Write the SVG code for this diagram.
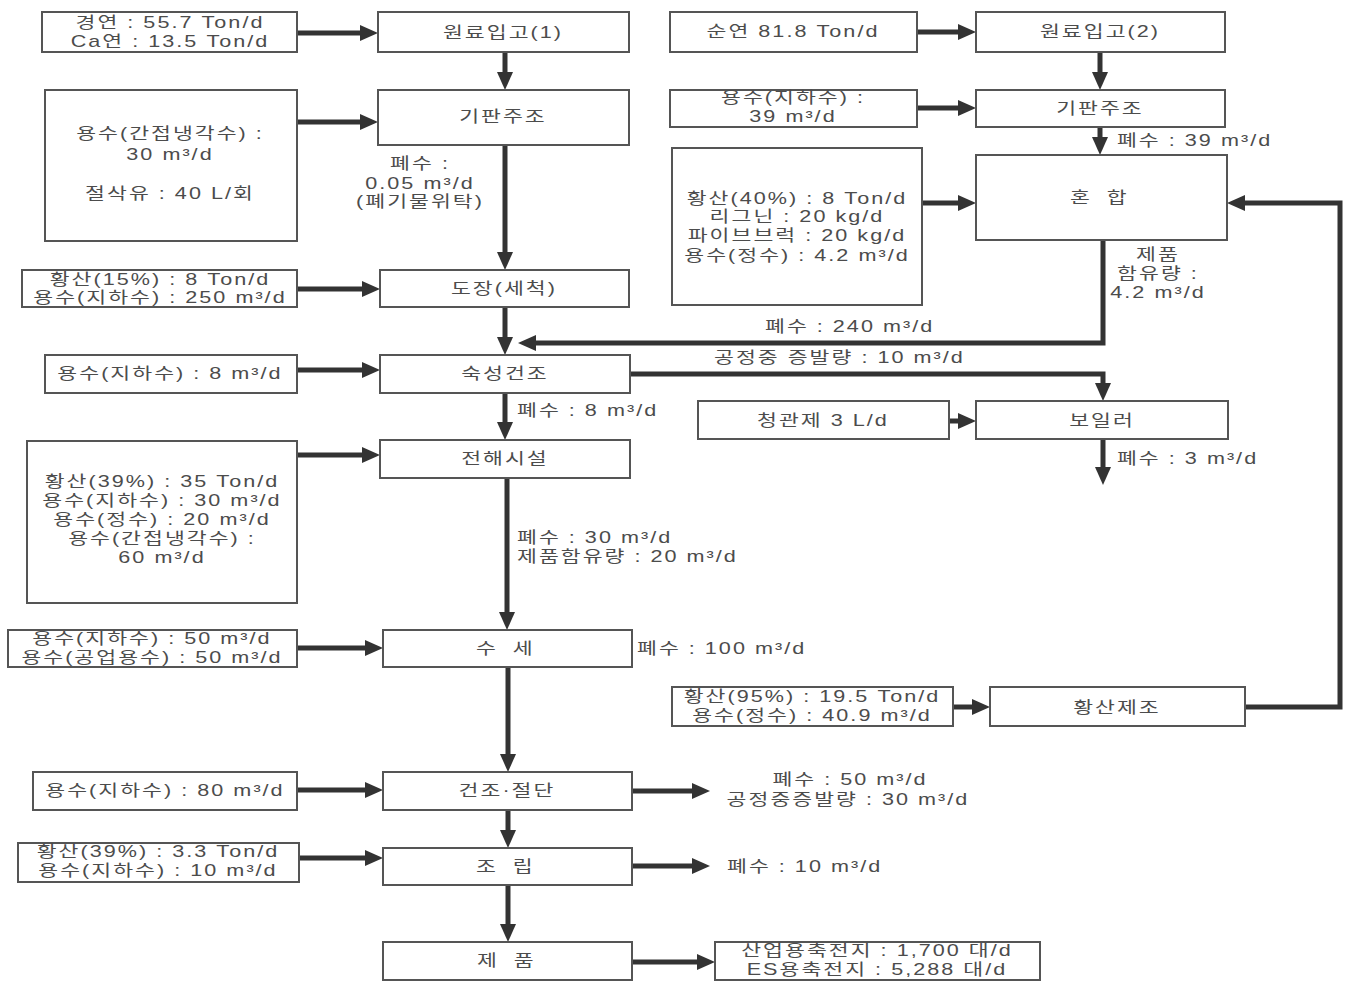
<svg xmlns="http://www.w3.org/2000/svg" width="1345" height="987" viewBox="0 0 1345 987">
<style>
.bx{fill:#fff;stroke:#555;stroke-width:2}
.t{font-family:"Liberation Sans","Noto Sans CJK KR",sans-serif;font-size:16px;fill:#4c4c4c;letter-spacing:1.5px;transform-box:fill-box;transform-origin:0% 50%;transform:scale(1.35,1)}
.m{text-anchor:middle;transform-origin:50% 50%}
.w{letter-spacing:4px}
.c{fill:none;stroke:#333;stroke-width:5}
</style>
<defs>
<marker id="ah" markerUnits="userSpaceOnUse" markerWidth="20" markerHeight="18" refX="8" refY="8" orient="auto">
<path d="M0,0 L18,8 L0,16 z" fill="#333"/>
</marker>
</defs>
<rect width="1345" height="987" fill="#fff"/>

<g id="connectors">
<path class="c" marker-end="url(#ah)" d="M297,33 H368"/>
<path class="c" marker-end="url(#ah)" d="M505,52 V80"/>
<path class="c" marker-end="url(#ah)" d="M297,122 H368"/>
<path class="c" marker-end="url(#ah)" d="M505,145 V260"/>
<path class="c" marker-end="url(#ah)" d="M297,289 H370"/>
<path class="c" marker-end="url(#ah)" d="M505,307 V345"/>
<path class="c" marker-end="url(#ah)" d="M1103,240 V343 H528"/>
<path class="c" marker-end="url(#ah)" d="M297,370 H370"/>
<path class="c" marker-end="url(#ah)" d="M630,374 H1103 V391"/>
<path class="c" marker-end="url(#ah)" d="M505,393 V430"/>
<path class="c" marker-end="url(#ah)" d="M297,455 H370"/>
<path class="c" marker-end="url(#ah)" d="M507,478 V620"/>
<path class="c" marker-end="url(#ah)" d="M297,648 H373"/>
<path class="c" marker-end="url(#ah)" d="M508,667 V762"/>
<path class="c" marker-end="url(#ah)" d="M297,790 H373"/>
<path class="c" marker-end="url(#ah)" d="M508,810 V838"/>
<path class="c" marker-end="url(#ah)" d="M299,858 H373"/>
<path class="c" marker-end="url(#ah)" d="M508,885 V932"/>
<path class="c" marker-end="url(#ah)" d="M632,791 H700"/>
<path class="c" marker-end="url(#ah)" d="M632,866 H700"/>
<path class="c" marker-end="url(#ah)" d="M632,962 H705"/>
<path class="c" marker-end="url(#ah)" d="M917,32 H966"/>
<path class="c" marker-end="url(#ah)" d="M1100,52 V80"/>
<path class="c" marker-end="url(#ah)" d="M917,108 H966"/>
<path class="c" marker-end="url(#ah)" d="M1100,127 V145"/>
<path class="c" marker-end="url(#ah)" d="M922,203 H966"/>
<path class="c" marker-end="url(#ah)" d="M1245,707 H1340 V203 H1237"/>
<path class="c" marker-end="url(#ah)" d="M953,707 H980"/>
<path class="c" marker-end="url(#ah)" d="M949,421 H966"/>
<path class="c" marker-end="url(#ah)" d="M1103,439 V475"/>
</g>

<g id="in-lead1"><rect class="bx" x="42" y="12" width="255" height="40"/>
<text class="t m" x="170" y="28">경연 : 55.7 Ton/d</text>
<text class="t m" x="170" y="47">Ca연 : 13.5 Ton/d</text></g>
<g id="n-raw1"><rect class="bx" x="378" y="12" width="251" height="40"/>
<text class="t m" x="503" y="38">원료입고(1)</text></g>

<g id="in-cool"><rect class="bx" x="45" y="90" width="252" height="151"/>
<text class="t m" x="170" y="139">용수(간접냉각수) :</text>
<text class="t m" x="170" y="160">30 m³/d</text>
<text class="t m" x="170" y="199">절삭유 : 40 L/회</text></g>
<g id="n-cast1"><rect class="bx" x="378" y="90" width="251" height="55"/>
<text class="t m" x="503" y="122">기판주조</text></g>

<g id="in-acid15"><rect class="bx" x="22" y="270" width="275" height="37"/>
<text class="t m" x="160" y="285">황산(15%) : 8 Ton/d</text>
<text class="t m" x="160" y="303">용수(지하수) : 250 m³/d</text></g>
<g id="n-paste"><rect class="bx" x="380" y="270" width="249" height="37"/>
<text class="t m" x="504" y="294">도장(세척)</text></g>

<g id="in-w8"><rect class="bx" x="45" y="355" width="252" height="38"/>
<text class="t m" x="170" y="379">용수(지하수) : 8 m³/d</text></g>
<g id="n-cure"><rect class="bx" x="380" y="355" width="250" height="38"/>
<text class="t m" x="505" y="379">숙성건조</text></g>

<g id="in-acid39"><rect class="bx" x="27" y="441" width="270" height="162"/>
<text class="t m" x="162" y="487">황산(39%) : 35 Ton/d</text>
<text class="t m" x="162" y="506">용수(지하수) : 30 m³/d</text>
<text class="t m" x="162" y="525">용수(정수) : 20 m³/d</text>
<text class="t m" x="162" y="544">용수(간접냉각수) :</text>
<text class="t m" x="162" y="563">60 m³/d</text></g>
<g id="n-form"><rect class="bx" x="380" y="440" width="250" height="38"/>
<text class="t m" x="505" y="464">전해시설</text></g>

<g id="in-w50"><rect class="bx" x="8" y="630" width="289" height="37"/>
<text class="t m" x="152" y="644">용수(지하수) : 50 m³/d</text>
<text class="t m" x="152" y="663">용수(공업용수) : 50 m³/d</text></g>
<g id="n-wash"><rect class="bx" x="383" y="630" width="249" height="37"/>
<text class="t m w" x="507" y="654">수 세</text></g>

<g id="in-w80"><rect class="bx" x="33" y="772" width="264" height="38"/>
<text class="t m" x="165" y="796">용수(지하수) : 80 m³/d</text></g>
<g id="n-dry"><rect class="bx" x="383" y="772" width="249" height="38"/>
<text class="t m" x="507" y="796">건조·절단</text></g>

<g id="in-acid33"><rect class="bx" x="18" y="843" width="281" height="39"/>
<text class="t m" x="158" y="857">황산(39%) : 3.3 Ton/d</text>
<text class="t m" x="158" y="876">용수(지하수) : 10 m³/d</text></g>
<g id="n-asm"><rect class="bx" x="383" y="848" width="249" height="37"/>
<text class="t m w" x="507" y="872">조 립</text></g>

<g id="n-prod"><rect class="bx" x="383" y="942" width="249" height="38"/>
<text class="t m w" x="508" y="966">제 품</text></g>
<g id="out-prod"><rect class="bx" x="715" y="942" width="325" height="38"/>
<text class="t m" x="877" y="956">산업용축전지 : 1,700 대/d</text>
<text class="t m" x="877" y="975">ES용축전지 : 5,288 대/d</text></g>

<g id="in-lead2"><rect class="bx" x="670" y="12" width="247" height="40"/>
<text class="t m" x="793" y="37">순연 81.8 Ton/d</text></g>
<g id="n-raw2"><rect class="bx" x="976" y="12" width="249" height="40"/>
<text class="t m" x="1100" y="37">원료입고(2)</text></g>

<g id="in-w39"><rect class="bx" x="670" y="90" width="247" height="37"/>
<text class="t m" x="793" y="103">용수(지하수) :</text>
<text class="t m" x="793" y="122">39 m³/d</text></g>
<g id="n-cast2"><rect class="bx" x="976" y="90" width="249" height="37"/>
<text class="t m" x="1100" y="114">기판주조</text></g>

<g id="in-acid40"><rect class="bx" x="672" y="148" width="250" height="157"/>
<text class="t m" x="797" y="204">황산(40%) : 8 Ton/d</text>
<text class="t m" x="797" y="222">리그닌 : 20 kg/d</text>
<text class="t m" x="797" y="241">파이브브럭 : 20 kg/d</text>
<text class="t m" x="797" y="261">용수(정수) : 4.2 m³/d</text></g>
<g id="n-mix"><rect class="bx" x="976" y="155" width="251" height="85"/>
<text class="t m w" x="1101" y="203">혼 합</text></g>

<g id="in-chem"><rect class="bx" x="698" y="401" width="251" height="38"/>
<text class="t m" x="823" y="426">청관제 3 L/d</text></g>
<g id="n-boiler"><rect class="bx" x="976" y="401" width="252" height="38"/>
<text class="t m" x="1102" y="426">보일러</text></g>

<g id="in-acid95"><rect class="bx" x="672" y="687" width="281" height="39"/>
<text class="t m" x="812" y="702">황산(95%) : 19.5 Ton/d</text>
<text class="t m" x="812" y="721">용수(정수) : 40.9 m³/d</text></g>
<g id="n-acidmake"><rect class="bx" x="990" y="687" width="255" height="39"/>
<text class="t m" x="1117" y="713">황산제조</text></g>

<g id="labels">
<text class="t m" x="420" y="169">폐수 :</text>
<text class="t m" x="420" y="189">0.05 m³/d</text>
<text class="t m" x="420" y="207">(폐기물위탁)</text>
<text class="t" x="1117" y="146">폐수 : 39 m³/d</text>
<text class="t m" x="1158" y="260">제품</text>
<text class="t m" x="1158" y="279">함유량 :</text>
<text class="t m" x="1158" y="298">4.2 m³/d</text>
<text class="t" x="765" y="332">폐수 : 240 m³/d</text>
<text class="t" x="714" y="363">공정중 증발량 : 10 m³/d</text>
<text class="t" x="517" y="416">폐수 : 8 m³/d</text>
<text class="t" x="1117" y="464">폐수 : 3 m³/d</text>
<text class="t" x="517" y="543">폐수 : 30 m³/d</text>
<text class="t" x="517" y="562">제품함유량 : 20 m³/d</text>
<text class="t" x="637" y="654">폐수 : 100 m³/d</text>
<text class="t m" x="850" y="785">폐수 : 50 m³/d</text>
<text class="t m" x="848" y="805">공정중증발량 : 30 m³/d</text>
<text class="t" x="727" y="872">폐수 : 10 m³/d</text>
</g>
</svg>
